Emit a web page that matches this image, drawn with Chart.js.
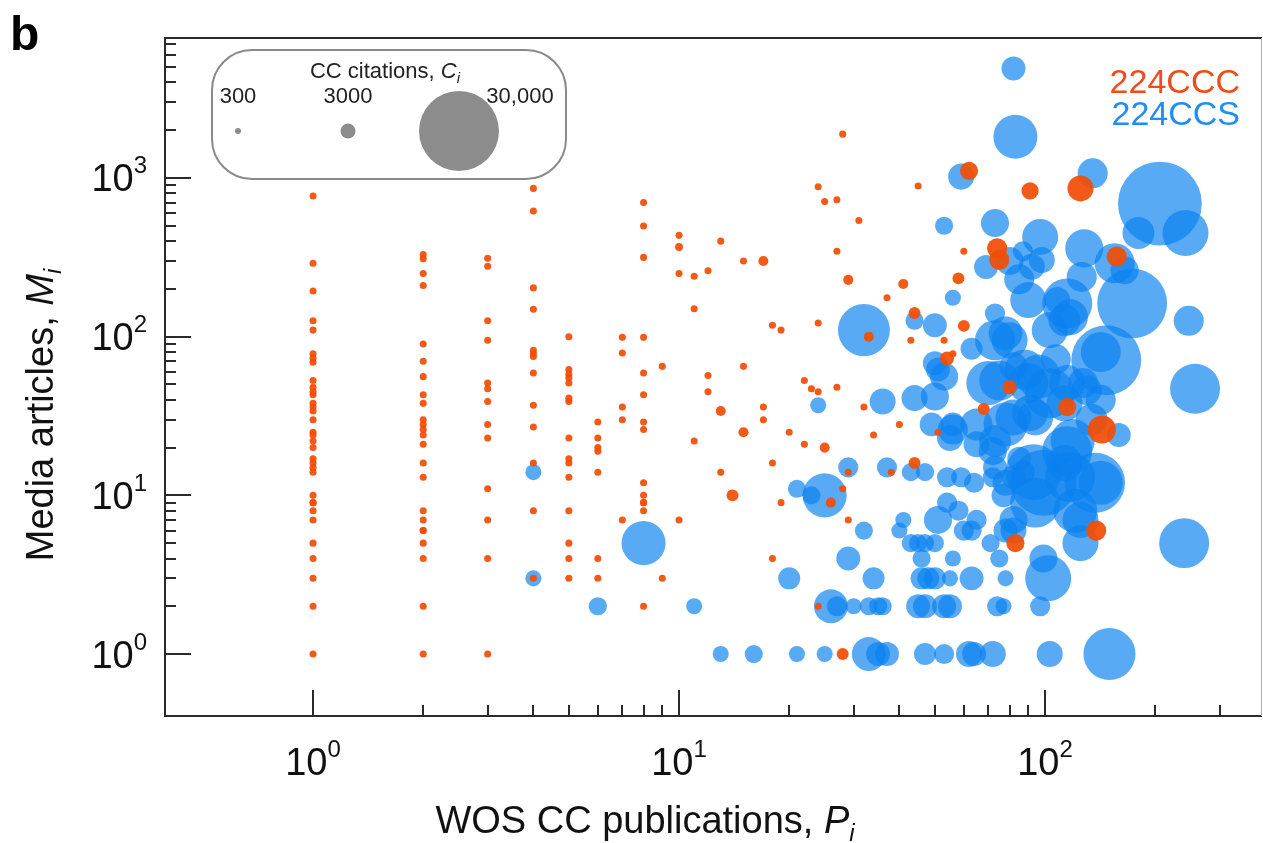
<!DOCTYPE html>
<html>
<head>
<meta charset="utf-8">
<script src="https://cdn.jsdelivr.net/npm/chart.js@4.4.0/dist/chart.umd.min.js"></script>
<style>
  html, body { margin: 0; padding: 0; background: #fff; }
</style>
</head>
<body>
<canvas id="myChart" width="1263" height="843"></canvas>
<script>
// [P publications, M media articles, C citations]
var cccData = [
  // P = 1
  [1,770,450],[1,290,450],[1,194,450],[1,126,450],[1,110,450],[1,78,450],[1,73,450],[1,69,450],[1,53,450],[1,48,450],
  [1,45,450],[1,43,450],[1,38,450],[1,36,450],[1,34,450],[1,30,450],[1,25,450],[1,24,450],[1,22,450],[1,20,450],
  [1,17,450],[1,16,450],[1,15,450],[1,14,450],[1,10,450],[1,9,450],[1,9,450],[1,8,450],[1,7,450],[1,5,450],
  [1,4,450],[1,3,450],[1,2,450],[1,1,450],
  // P = 2
  [2,330,450],[2,310,450],[2,250,450],[2,210,450],[2,90,450],[2,70,450],[2,56,450],[2,43,450],[2,38,450],[2,30,450],
  [2,28,450],[2,26,450],[2,24,450],[2,21,450],[2,16,450],[2,13,450],[2,8,450],[2,7,450],[2,6,450],[2,6,450],
  [2,5,450],[2,4,450],[2,2,450],[2,1,450],
  // P = 3
  [3,312,450],[3,278,450],[3,126,450],[3,95,450],[3,51,450],[3,47,450],[3,39,450],[3,28,450],[3,23,450],[3,11,450],
  [3,7,450],[3,4,450],[3,1,450],
  // P = 4
  [4,860,450],[4,620,450],[4,203,450],[4,149,450],[4,82,450],[4,78,450],[4,75,450],[4,59,450],[4,37,450],[4,27,450],
  [4,16,450],[4,8,450],[4,3,450],
  // P = 5
  [5,100,450],[5,62,450],[5,58,450],[5,55,450],[5,51,450],[5,41,450],[5,39,450],[5,23,450],[5,17,450],[5,16,450],
  [5,13,450],[5,8,450],[5,5,450],[5,4,450],[5,3,450],
  // P = 6 .. 9
  [6,29,450],[6,23,450],[6,20,450],[6,19,450],[6,14,450],[6,4,450],[6,3,450],
  [7,99,450],[7,79,450],[7,36,450],[7,30,450],[7,7,450],
  [8,700,450],[8,498,450],[8,316,450],[8,99,450],[8,59,450],[8,43,450],[8,29,450],[8,26,450],[8,12,450],[8,10,450],
  [8,9,450],[8,9,450],[8,8,450],[8,2,450],
  [9,65,450],[9,3,450],
  // P >= 10
  [10,435,450],[10,367,600],[10,250,450],[10,7,450],
  [11,240,450],[11,150,450],[11,22,450],
  [12,260,450],[12,57,450],[12,45,450],
  [13,400,450],[13,34,1100],[13,14,450],
  [14,10,1700],
  [15,300,450],[15,65,450],[15,25,1100],
  [17,300,1100],[17,36,450],[17,30,450],
  [18,118,450],[18,16,450],[18,4,450],
  [19,110,450],[19,9,450],
  [20,25,450],
  [22,53,450],[22,21,450],[23,47,450],
  [24,880,450],[24,122,450],[24,45,450],[24,2,450],
  [25,710,450],[25,20,1100],[26,9,1100],
  [27,730,450],[27,345,450],[27,48,450],
  [28,1890,450],[28,11,450],[28,1,1700],
  [29,228,1100],[29,14,450],[29,7,450],
  [31,540,450],[32,36,450],[33,100,1100],[34,24,450],
  [37,176,450],[38,14,450],[40,28,450],[41,215,1100],
  [43,95,450],[44,141,1700],[44,16,1700],[45,890,450],
  [51,25,450],[53,95,450],[54,73,2500],[56,78,450],
  [58,233,1700],[60,345,450],[60,117,1700],[62,1110,3900],
  [68,35,1700],[74,360,4500],[75,305,4500],[80,48,2500],
  [83,5,3900],[91,830,3600],[115,36,3900],[125,860,6400],
  [138,6,4500],[143,26,7100],[157,320,4500]
];

var ccsData = [
  [4,14,3300],[4,3,3300],[6,2,3900],[8,5,13200],[11,2,3300],
  [13,1,3300],[16,1,3900],[21,1,3300],[25,1,3300],
  [20,3,5100],[21,11,3900],[23,10,3900],[25,10,13200],[24,37,3300],
  [26,2,9200],[27,2,4500],[30,2,3300],[33,2,3900],[35,2,3900],[36,2,3900],
  [29,4,5700],[34,3,5100],[32,6,3900],[29,15,4500],[37,15,4500],[43,14,3900],[47,14,3900],
  [33,1,9200],[35,1,5700],[37,1,5700],[47,1,5100],[53,1,4500],[62,1,6400],[64,1,5700],[72,1,6400],[103,1,6400],[150,1,16600],
  [45,2,5700],[47,2,5700],[53,2,5700],[55,2,5700],[74,2,4500],[77,2,3300],[97,2,4500],
  [46,3,5100],[48,3,5100],[50,3,5100],[55,3,3300],[63,3,5700],[78,3,3300],[102,3,14000],
  [46,4,3900],[56,4,3300],[75,4,3900],[99,4,7100],
  [43,5,3900],[45,5,3900],[47,5,3900],[50,5,3900],[71,5,3900],[125,5,10000],[240,5,15700],
  [40,6,3300],[41,7,3300],[51,7,7100],[54,9,4500],[58,8,4500],[60,6,4500],[63,6,4500],[65,7,4500],[78,6,5700],[82,7,7100],[82,6,6400],
  [54,13,4500],[59,13,4500],[64,12,4500],[72,13,4500],[77,10,5700],[87,14,5700],[82,13,5700],[73,15,5700],[85,17,5700],[78,12,6400],
  [94,9,15700],[93,14,18400],[99,12,23000],[117,13,15700],[121,8,13200],[125,7,10000],[137,12,20200],[142,12,13200],[113,16,10000],[115,19,15700],[119,22,13200],
  [49,28,5700],[56,26,7800],[55,23,6400],[56,28,5700],[65,28,8500],[65,21,6400],[72,19,7100],[73,22,8500],[78,28,13200],[82,31,10000],[91,33,10000],[94,31,10000],[134,30,8500],[159,24,5700],
  [36,39,6400],[44,41,6400],[50,42,7100],[53,56,7100],[51,62,5700],[50,68,5700],[63,84,5100],[70,51,13200],[75,53,11600],[90,51,11600],[96,56,13200],[88,62,11600],
  [103,44,15700],[113,38,10000],[115,51,10000],[127,51,7800],[130,46,7800],[142,40,7800],[82,65,7100],[147,71,24900],[142,80,11600],[107,72,7800],[257,47,15700],
  [32,110,16600],[44,126,3900],[50,118,5700],[73,95,11600],[80,95,10000],[78,105,9200],[73,140,4500],[103,110,10000],[113,127,8500],[117,133,10000],
  [56,176,3300],[90,170,10000],[108,170,6400],[115,162,15700],[173,162,24900],[247,126,7800],
  [69,275,5700],[87,345,4500],[92,276,6400],[98,304,6400],[80,300,7100],[85,230,7800],[126,238,7800],[128,360,10800],[165,262,7100],[155,290,11600],
  [97,425,10000],[53,500,3900],[73,520,7100],[180,450,8500],[242,450,14000],[206,690,32000],[135,1070,7800],[59,1020,6400],[83,1820,13200],[82,4900,5700]
];

var seriesNames = ['224CCC', '224CCS'];
var sizeLegendValues = [300, 3000, 30000];
var sizeLegendLabels = ['300', '3000', '30,000'];
var xPowers = [0, 1, 2];
var yPowers = [0, 1, 2, 3];

var FONT = '"Liberation Sans", Helvetica, Arial, sans-serif';
var sizeRadii = [3, 7.5, 40]; // pixel radius for the legend values

function radiusFor(c) {
  var lc = Math.log10(c);
  var i = lc < Math.log10(sizeLegendValues[1]) ? 0 : 1;
  var x0 = Math.log10(sizeLegendValues[i]), x1 = Math.log10(sizeLegendValues[i + 1]);
  var t = (lc - x0) / (x1 - x0);
  var r0 = Math.log(sizeRadii[i]), r1 = Math.log(sizeRadii[i + 1]);
  return Math.exp(r0 + t * (r1 - r0));
}

function toPoints(rows) {
  return rows.map(function(d) { return { x: d[0], y: d[1], r: radiusFor(d[2]) }; });
}

// draws pieces of text one after the other (for exponents and subscripts)
function drawRich(ctx, parts, x, y, align) {
  var w = 0;
  parts.forEach(function(p) { ctx.font = p.font; p.w = ctx.measureText(p.t).width; w += p.w; });
  var cx = align === 'center' ? x - w / 2 : (align === 'right' ? x - w : x);
  ctx.textAlign = 'left';
  ctx.textBaseline = 'alphabetic';
  parts.forEach(function(p) { ctx.font = p.font; ctx.fillText(p.t, cx, y + (p.dy || 0)); cx += p.w; });
}

var framePlugin = {
  id: 'frame',
  afterDraw: function(chart) {
    var ctx = chart.ctx, a = chart.chartArea;
    var xs = chart.scales.x, ys = chart.scales.y;
    ctx.save();

    // box
    ctx.strokeStyle = '#2a2a2a';
    ctx.lineWidth = 2;
    ctx.beginPath();
    ctx.moveTo(a.right, a.top);
    ctx.lineTo(a.left, a.top);
    ctx.lineTo(a.left, a.bottom);
    ctx.lineTo(a.right, a.bottom);
    ctx.stroke();
    ctx.strokeStyle = '#b0b0b0';
    ctx.lineWidth = 1;
    ctx.beginPath();
    ctx.moveTo(a.right - 0.5, a.top);
    ctx.lineTo(a.right - 0.5, a.bottom);
    ctx.stroke();

    // inward ticks
    ctx.strokeStyle = '#2a2a2a';
    ctx.lineWidth = 2;
    ctx.beginPath();
    for (var d = 0; d <= 3; d++) {
      for (var k = 1; k <= 9; k++) {
        var v = k * Math.pow(10, d);
        var len = k === 1 ? 26 : 11;
        if (v <= xs.max) {
          var px = Math.round(xs.getPixelForValue(v));
          ctx.moveTo(px, a.bottom);
          ctx.lineTo(px, a.bottom - len);
        }
        if (v <= ys.max) {
          var py = Math.round(ys.getPixelForValue(v));
          ctx.moveTo(a.left, py);
          ctx.lineTo(a.left + len, py);
        }
      }
    }
    ctx.stroke();

    // tick labels
    ctx.fillStyle = '#111';
    xPowers.forEach(function(p) {
      drawRich(ctx, [{ t: '10', font: '38px ' + FONT }, { t: String(p), font: '24px ' + FONT, dy: -18 }],
        xs.getPixelForValue(Math.pow(10, p)), 775, 'center');
    });
    yPowers.forEach(function(p) {
      drawRich(ctx, [{ t: '10', font: '38px ' + FONT }, { t: String(p), font: '24px ' + FONT, dy: -18 }],
        147, ys.getPixelForValue(Math.pow(10, p)) + 13.5, 'right');
    });

    // axis titles
    drawRich(ctx, [
      { t: 'WOS CC publications, ', font: '38px ' + FONT },
      { t: 'P', font: 'italic 38px ' + FONT },
      { t: 'i', font: 'italic 24px ' + FONT, dy: 8 }
    ], 645, 833, 'center');
    ctx.save();
    ctx.translate(53, 415);
    ctx.rotate(-Math.PI / 2);
    drawRich(ctx, [
      { t: 'Media articles, ', font: '38px ' + FONT },
      { t: 'M', font: 'italic 38px ' + FONT },
      { t: 'i', font: 'italic 24px ' + FONT, dy: 8 }
    ], 0, 0, 'center');
    ctx.restore();

    // panel letter
    ctx.font = 'bold 48px ' + FONT;
    ctx.fillStyle = '#000';
    ctx.textAlign = 'left';
    ctx.fillText('b', 10, 50);

    // series names
    ctx.font = '34px ' + FONT;
    ctx.textAlign = 'right';
    ctx.fillStyle = '#f04b1c';
    ctx.fillText(seriesNames[0], 1240, 93);
    ctx.fillStyle = '#1f8ef5';
    ctx.fillText(seriesNames[1], 1240, 125);

    // size legend
    ctx.strokeStyle = '#8a8a8a';
    ctx.lineWidth = 2;
    ctx.fillStyle = '#fff';
    ctx.beginPath();
    ctx.roundRect(212, 50, 354, 129, 40);
    ctx.fill();
    ctx.stroke();
    ctx.fillStyle = '#222';
    drawRich(ctx, [
      { t: 'CC citations, ', font: '22px ' + FONT },
      { t: 'C', font: 'italic 22px ' + FONT },
      { t: 'i', font: 'italic 15px ' + FONT, dy: 5 }
    ], 385, 78, 'center');
    var cxs = [238, 348, 459];
    var lxs = [238, 348, 520];
    sizeLegendValues.forEach(function(v, i) {
      ctx.fillStyle = '#222';
      ctx.font = '22px ' + FONT;
      ctx.textAlign = 'center';
      ctx.fillText(sizeLegendLabels[i], lxs[i], 103);
      ctx.fillStyle = '#8c8c8c';
      ctx.beginPath();
      ctx.arc(cxs[i], 131, radiusFor(v), 0, Math.PI * 2);
      ctx.fill();
    });

    ctx.restore();
  }
};

new Chart('myChart', {
  type: 'bubble',
  data: {
    datasets: [
      { label: seriesNames[0], data: toPoints(cccData), backgroundColor: 'rgba(242,78,5,0.93)', borderWidth: 0 },
      { label: seriesNames[1], data: toPoints(ccsData), backgroundColor: 'rgba(10,130,240,0.68)', borderWidth: 0 }
    ]
  },
  options: {
    responsive: false,
    animation: false,
    devicePixelRatio: 1,
    events: [],
    layout: { autoPadding: false, padding: { left: 0, right: 1, top: 38, bottom: 0 } },
    plugins: { legend: { display: false }, tooltip: { enabled: false } },
    scales: {
      x: {
        type: 'logarithmic', min: 0.394, max: 391.6,
        grid: { display: false }, border: { display: false }, ticks: { display: false },
        afterFit: function(s) { s.height = 127; }
      },
      y: {
        type: 'logarithmic', min: 0.407, max: 7625,
        grid: { display: false }, border: { display: false }, ticks: { display: false },
        afterFit: function(s) { s.width = 165; }
      }
    }
  },
  plugins: [framePlugin]
});
</script>
</body>
</html>
